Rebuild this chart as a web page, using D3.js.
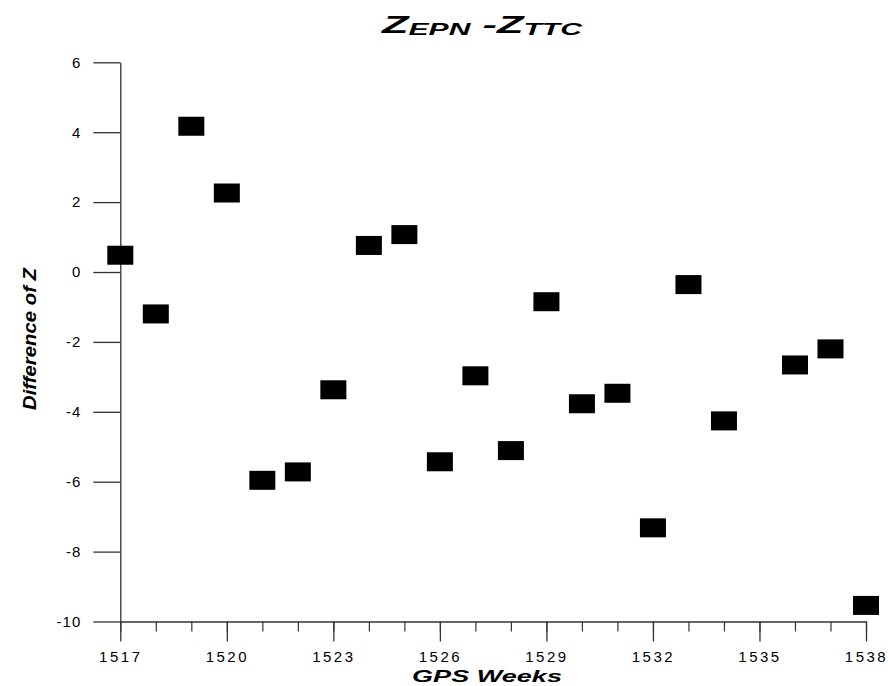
<!DOCTYPE html>
<html>
<head>
<meta charset="utf-8">
<script src="https://cdn.jsdelivr.net/npm/d3@7"></script>
<style>
  body { margin: 0; background: #fff; }
  svg { display: block; font-family: "Liberation Sans", Arial, sans-serif; }
</style>
</head>
<body>
<svg id="chart" width="888" height="686"></svg>
<script>
// Z_EPN - Z_TTC differences by GPS week
const weeks = [1517, 1518, 1519, 1520, 1521, 1522, 1523, 1524, 1525, 1526, 1527,
               1528, 1529, 1530, 1531, 1532, 1533, 1534, 1536, 1537, 1538];
const diffZ = [0.48, -1.20, 4.17, 2.26, -5.96, -5.72, -3.37, 0.76, 1.07, -5.43, -2.97,
               -5.11, -0.85, -3.77, -3.47, -7.32, -0.36, -4.26, -2.66, -2.20, -9.54];
const yTicks = [-10, -8, -6, -4, -2, 0, 2, 4, 6];
const xMajor = [1517, 1520, 1523, 1526, 1529, 1532, 1535, 1538];
const xMinor = d3.range(1517, 1539);

const svg = d3.select("#chart");
const x = d3.scaleLinear().domain([1517, 1538]).range([120.3, 866]);
const y = d3.scaleLinear().domain([-10, 6]).range([621.5, 62.3]);
const axisColor = "#333";

// y axis, ticks pointing left
const yAxis = svg.append("g")
    .attr("transform", `translate(${x(1517)},0)`)
    .call(d3.axisLeft(y).tickValues(yTicks).tickSize(27).tickSizeOuter(0).tickPadding(12)
        .tickFormat(d => String(d)));
yAxis.select(".domain").attr("stroke", axisColor).attr("stroke-width", 1.3);
yAxis.selectAll(".tick line").attr("stroke", axisColor).attr("stroke-width", 1.3);
yAxis.selectAll(".tick text")
    .attr("fill", "#000")
    .style("font-size", "15px")
    .style("letter-spacing", "1px");

// x axis: minor ticks every week, major with labels every 3
const xMinorAxis = svg.append("g")
    .attr("transform", `translate(0,${y(-10)})`)
    .call(d3.axisBottom(x).tickValues(xMinor).tickSize(10).tickSizeOuter(0).tickFormat(""));
xMinorAxis.select(".domain").attr("stroke", axisColor).attr("stroke-width", 1.3);
xMinorAxis.selectAll(".tick line").attr("stroke", axisColor).attr("stroke-width", 1.2);

const xMajorAxis = svg.append("g")
    .attr("transform", `translate(0,${y(-10)})`)
    .call(d3.axisBottom(x).tickValues(xMajor).tickSize(20).tickSizeOuter(0).tickPadding(10)
        .tickFormat(d => String(d)));
xMajorAxis.select(".domain").remove();
xMajorAxis.selectAll(".tick line").attr("stroke", axisColor).attr("stroke-width", 1.3);
xMajorAxis.selectAll(".tick text")
    .attr("fill", "#000")
    .style("font-size", "15px")
    .style("letter-spacing", "2.5px");

// square markers
const pts = weeks.map((w, i) => ({week: w, value: diffZ[i]}));
svg.append("g")
    .selectAll("rect")
    .data(pts)
    .enter()
    .append("rect")
    .attr("x", d => x(d.week) - 13)
    .attr("y", d => y(d.value) - 9.5)
    .attr("width", 26)
    .attr("height", 19)
    .attr("fill", "#000");

// stretch a text element horizontally to a given width
function stretch(sel, cx, targetWidth) {
    const w = sel.node().getComputedTextLength();
    sel.attr("transform", `translate(${cx},0) scale(${targetWidth / w},1)`);
}

// title with subscripts
const title = svg.append("text")
    .attr("x", 0)
    .attr("y", 33)
    .attr("text-anchor", "middle")
    .style("font-weight", "bold")
    .style("font-style", "italic")
    .style("font-size", "23px");
title.append("tspan").text("Z");
title.append("tspan").attr("dy", 2).style("font-size", "16px").text("EPN");
title.append("tspan").attr("dy", -2).text(" -Z");
title.append("tspan").attr("dy", 2).style("font-size", "16px").text("TTC");
stretch(title, 482, 200);

// x axis title
const xTitle = svg.append("text")
    .attr("x", 0)
    .attr("y", 682)
    .attr("text-anchor", "middle")
    .style("font-weight", "bold")
    .style("font-style", "italic")
    .style("font-size", "16px")
    .text("GPS Weeks");
stretch(xTitle, 487, 150);

// y axis title
svg.append("text")
    .attr("transform", "translate(36,339) rotate(-90)")
    .attr("text-anchor", "middle")
    .attr("textLength", 142)
    .attr("lengthAdjust", "spacingAndGlyphs")
    .style("font-weight", "bold")
    .style("font-style", "italic")
    .style("font-size", "18px")
    .text("Difference of Z");
</script>
</body>
</html>
